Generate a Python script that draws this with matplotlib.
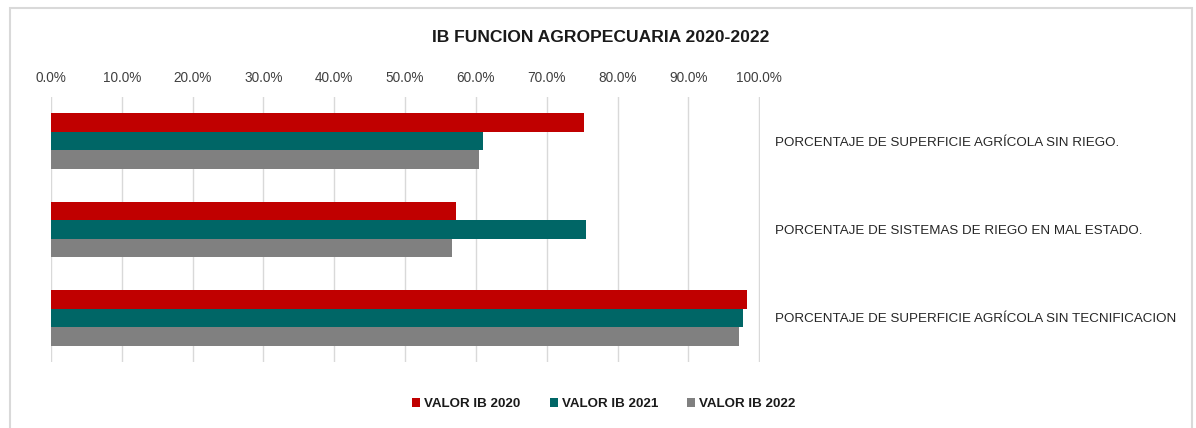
import numpy as np
import matplotlib.pyplot as plt
from matplotlib.patches import Rectangle
from matplotlib.ticker import PercentFormatter

# data
categories = [
    'PORCENTAJE DE SUPERFICIE AGRÍCOLA SIN RIEGO.',
    'PORCENTAJE DE SISTEMAS DE RIEGO EN MAL ESTADO.',
    'PORCENTAJE DE SUPERFICIE AGRÍCOLA SIN TECNIFICACION',
]
series_names = ['VALOR IB 2020', 'VALOR IB 2021', 'VALOR IB 2022']
valor_2020 = [75.2, 57.2, 98.3]
valor_2021 = [61.0, 75.5, 97.7]
valor_2022 = [60.4, 56.6, 97.1]
colors = ['#c00000', '#006666', '#808080']

plt.rcParams['font.family'] = ['Liberation Sans', 'DejaVu Sans']

W, H = 1196, 428
fig = plt.figure(figsize=(W / 100, H / 100), dpi=100)
ax = fig.add_axes([51 / W, 1 - 362 / H, (760 - 51) / W, (362 - 97) / H])

y = np.arange(len(categories))
h = 0.21
for i, (vals, name, c) in enumerate(zip([valor_2020, valor_2021, valor_2022], series_names, colors)):
    ax.barh(y + (i - 1) * h, vals, height=h, color=c, label=name, zorder=3)

ax.set_xlim(0, 100.1)
ax.set_ylim(len(categories) - 0.5, -0.5)
ax.xaxis.set_major_formatter(PercentFormatter(decimals=1))
ax.set_xticks(np.arange(0, 101, 10))
ax.xaxis.tick_top()
ax.tick_params(axis='x', length=0, pad=9, labelsize=9.8, labelcolor='#404040')
ax.grid(axis='x', color='#d9d9d9', linewidth=1, zorder=0)

ax.yaxis.tick_right()
ax.set_yticks(y)
ax.set_yticklabels(categories)
ax.tick_params(axis='y', length=0, pad=11, labelsize=9.6, labelcolor='#262626')
for s in ax.spines.values():
    s.set_visible(False)

fig.text(601 / W, 1 - 38 / H, 'IB FUNCION AGROPECUARIA 2020-2022', ha='center', va='center',
         fontsize=12.6, fontweight='bold', color='#1a1a1a')

leg = fig.legend(loc='center', bbox_to_anchor=(604 / W, 1 - 404 / H), ncol=3, frameon=False,
                 prop={'weight': 'bold', 'size': 9.6}, handlelength=0.6, handleheight=0.6,
                 handletextpad=0.3, columnspacing=2.2)
for t in leg.get_texts():
    t.set_color('#1a1a1a')

fig.patches.append(Rectangle((10 / W, -0.05), (1192 - 10) / W, 1 - 8 / H + 0.05,
                             transform=fig.transFigure, fill=False, edgecolor='#d9d9d9', linewidth=1.5))

fig.savefig('out.png', dpi=100)
